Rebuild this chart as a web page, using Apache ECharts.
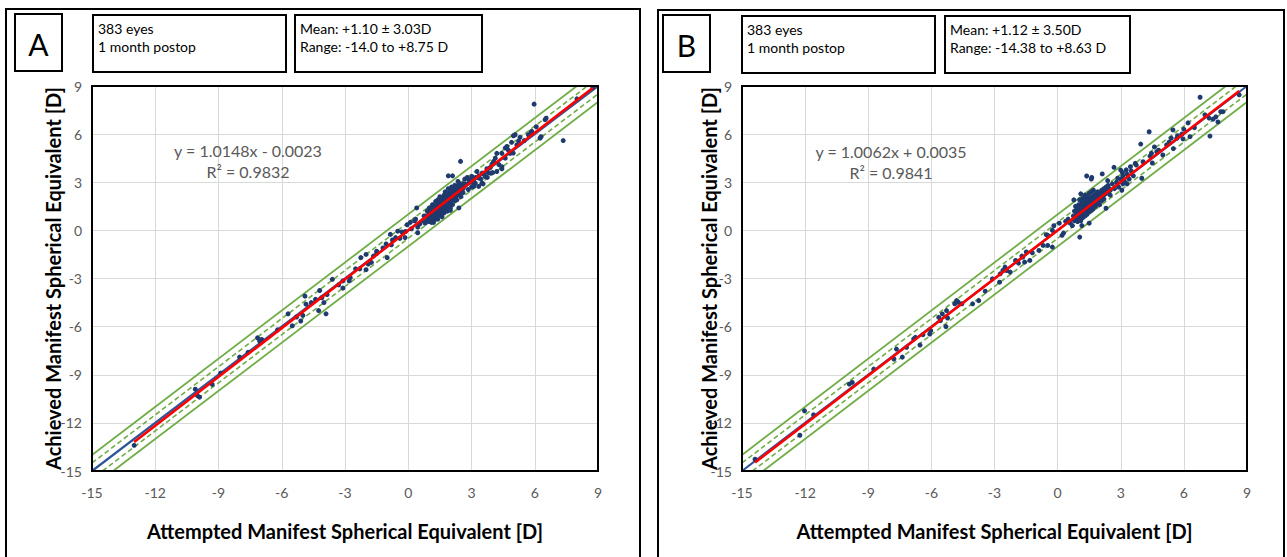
<!DOCTYPE html>
<html><head><meta charset="utf-8">
<script src="https://cdn.jsdelivr.net/npm/echarts@6/dist/echarts.min.js"></script>
<style>html,body{margin:0;padding:0;background:#fff}#c{width:1287px;height:557px}</style>
</head><body><div id="c"></div>
<script>
// ---------- data ----------
const tickValues = [-15, -12, -9, -6, -3, 0, 3, 6, 9];
const panelLetters = ['A', 'B'];
const infoLines = ['383 eyes\n1 month postop', '383 eyes\n1 month postop'];
const statLines = ['Mean: +1.10 ± 3.03D\nRange: -14.0 to +8.75 D', 'Mean: +1.12 ± 3.50D\nRange: -14.38 to +8.63 D'];
const equations = ['y = 1.0148x - 0.0023', 'y = 1.0062x + 0.0035'];
const r2Labels = ['R² = 0.9832', 'R² = 0.9841'];
const slopes = [1.0148, 1.0062];
const intercepts = [-0.0023, 0.0035];
const xTitle = 'Attempted Manifest Spherical Equivalent [D]';
const yTitle = 'Achieved Manifest Spherical Equivalent [D]';
const solidOffsets = [1, -1];
const dashedOffsets = [0.5, -0.5];

// Panel A: [attempted, achieved]
const pointsA = [
[-13.0,-13.4],[-10.1,-9.9],[-10.0,-10.3],[-9.9,-10.4],[-9.3,-9.6],[-8.9,-8.9],[-8.0,-7.9],[-7.6,-7.6],
[-7.15,-6.7],[-7.05,-6.9],[-6.95,-6.8],[-6.2,-6.2],[-5.7,-5.2],[-5.5,-5.95],[-5.3,-5.4],[-5.1,-5.65],
[-5.0,-5.3],[-4.9,-4.1],[-4.85,-4.6],[-4.6,-4.5],[-4.4,-4.3],[-4.25,-5.0],[-4.2,-3.75],[-4.1,-4.2],
[-4.0,-4.5],[-3.9,-5.2],[-3.85,-4.0],[-3.6,-3.05],[-3.3,-3.4],[-3.1,-3.6],[-3.1,-3.15],[-2.8,-3.15],
[-2.75,-2.95],[-2.5,-2.4],[-2.3,-2.4],[-2.25,-1.7],[-2.0,-1.5],[-2.0,-2.45],[-1.9,-2.1],[-1.75,-2.0],
[-1.65,-1.6],[-1.5,-1.3],[-1.5,-1.45],[-1.2,-1.1],[-1.05,-0.85],[-1.0,-1.7],[-0.85,-0.25],[-0.8,-0.9],
[-0.75,-0.6],[-0.6,-0.45],[-0.5,-0.05],[-0.4,-0.5],[-0.3,-0.1],[-0.15,-0.45],[-0.13,-0.07],[-0.05,0.35],
[0.1,0.5],[0.15,0.1],[0.3,0.6],[0.35,0.7],[0.4,1.4],[0.45,0.2],[0.45,-0.15],[0.55,0.4],[0.7,0.6],
[0.75,0.9],[0.8,0.45],
[0.85,0.9],[0.9,0.6],[0.9,1.2],[0.95,0.8],[1.0,1.0],[1.0,0.55],[1.0,1.4],[1.05,0.7],[1.05,1.1],[1.1,0.9],
[1.1,1.3],[1.1,0.5],[1.15,1.0],[1.15,1.6],[1.2,0.8],[1.2,1.2],[1.2,1.45],[1.2,0.5],[1.25,0.95],[1.25,1.35],
[1.25,0.65],[1.3,1.1],[1.3,1.5],[1.3,0.85],[1.3,1.8],[1.35,1.25],[1.35,1.0],[1.35,1.65],[1.4,1.4],[1.4,0.9],
[1.4,1.15],[1.4,1.9],[1.4,0.7],[1.45,1.3],[1.45,1.55],[1.45,1.05],[1.5,1.5],[1.5,1.2],[1.5,1.75],[1.5,0.95],
[1.5,2.1],[1.55,1.4],[1.55,1.6],[1.55,1.15],[1.6,1.6],[1.6,1.3],[1.6,1.85],[1.6,1.0],[1.6,0.85],[1.65,1.5],
[1.65,1.7],[1.65,2.0],[1.65,1.25],[1.7,1.8],[1.7,1.4],[1.7,1.6],[1.7,2.2],[1.7,1.1],[1.75,1.9],[1.75,1.5],
[1.75,1.7],[1.75,2.4],[1.8,1.8],[1.8,1.6],[1.8,2.05],[1.8,1.3],[1.8,2.3],[1.85,1.9],[1.85,1.7],[1.85,2.15],
[1.85,1.45],[1.85,1.2],[1.9,2.0],[1.9,1.8],[1.9,2.3],[1.9,1.55],[1.9,2.6],[1.95,2.1],[1.95,1.9],[1.95,1.65],
[2.0,2.0],[2.0,2.25],[2.0,1.75],[2.0,2.5],[2.0,1.4],[2.0,1.25],[2.05,2.1],[2.05,1.9],[2.05,2.7],[2.1,2.2],
[2.1,1.95],[2.1,2.45],[2.1,1.6],[2.15,2.3],[2.15,2.05],[2.15,2.6],[2.2,2.2],[2.2,2.45],[2.2,1.85],[2.2,2.8],
[2.25,2.35],[2.25,2.1],[2.3,2.5],[2.3,2.25],[2.3,1.9],[2.3,2.75],[2.35,2.4],[2.35,2.6],[2.4,2.5],[2.4,2.2],
[2.4,2.95],[2.4,1.4],[2.45,2.65],[2.45,2.35],[2.5,2.55],[2.5,2.8],[2.5,2.1],[2.55,2.7],[2.6,2.6],[2.6,2.9],
[2.6,2.35],[2.65,2.75],[1.9,3.4],[2.1,3.4],[2.48,4.3],[2.85,2.55],
[2.68,3.2],[2.36,3.05],[2.39,2.63],[2.7,2.9],[2.8,3.3],[2.87,3.15],[2.9,3.0],[3.0,3.2],[3.02,3.36],[3.0,2.7],
[3.1,3.05],[3.1,2.74],[3.1,2.9],[3.18,2.94],[3.2,3.3],[3.26,3.67],[3.34,3.26],[3.34,2.74],[3.35,3.4],[3.45,3.2],
[3.5,3.57],[3.5,2.94],[3.55,2.9],[3.6,3.5],[3.65,3.36],[3.73,3.84],[3.75,3.3],[3.8,3.6],[3.89,3.57],[3.89,3.92],
[3.97,4.13],[4.0,3.6],[4.05,4.3],[4.13,4.5],[4.2,4.8],[4.2,3.67],[4.3,4.1],[4.44,4.8],[4.44,3.84],[4.44,3.97],
[4.6,4.5],[4.6,5.13],[4.68,5.23],[4.75,5.0],[4.83,4.8],[4.9,5.49],[4.98,4.82],[4.99,5.9],[5.07,5.96],[5.15,5.33],
[5.23,5.58],[5.3,5.8],[5.5,5.6],[5.7,5.96],[5.83,6.13],[5.86,6.17],[5.97,7.87],[6.07,6.46],[6.25,5.75],[6.3,5.84],
[6.49,6.9],[6.54,6.99],[7.35,5.6],[8.0,8.2],[8.75,8.9]
];

// Panel B: [attempted, achieved]
const pointsB = [
[-14.38,-14.27],[-12.03,-11.25],[-12.25,-12.77],[-11.6,-11.5],[-9.9,-9.58],[-9.76,-9.48],[-8.74,-8.65],[-7.78,-8.02],
[-7.66,-7.4],[-7.38,-7.9],[-7.18,-7.29],[-6.84,-6.77],[-6.76,-6.67],[-6.54,-7.15],[-6.4,-6.5],[-6.08,-6.46],
[-6.03,-6.25],[-5.65,-5.42],[-5.57,-5.63],[-5.48,-5.21],[-5.31,-6.0],[-5.28,-5.0],[-5.23,-5.46],[-4.89,-4.58],
[-4.8,-4.38],[-4.72,-4.48],[-4.55,-4.58],[-4.04,-4.58],[-3.75,-4.38],[-3.44,-3.79],[-3.1,-3.02],[-2.76,-3.23],
[-2.73,-2.71],[-2.6,-2.5],[-2.5,-2.29],[-2.42,-2.5],[-2.25,-2.6],[-2.0,-1.875],[-1.86,-2.04],[-1.7,-1.6],
[-1.66,-1.67],[-1.57,-1.98],[-1.49,-1.35],[-1.32,-1.875],[-1.2,-1.4],[-0.89,-1.25],[-0.69,-0.94],[-0.54,-0.27],
[-0.47,-0.31],[-0.47,-0.94],[-0.25,-1.04],[-0.25,0.0],[-0.18,0.29],[0.08,0.45],[0.21,-0.31],[0.28,-0.17],
[0.38,0.56],[0.5,0.7],[0.6,0.45],[0.7,0.3],[1.05,-0.42],
[0.75,0.9],[0.8,1.2],[0.8,0.6],[0.85,1.5],[0.9,0.8],[0.9,1.1],[0.95,1.35],[0.95,0.55],[1.0,1.0],[1.0,1.6],
[1.0,0.75],[1.05,1.2],[1.05,0.9],[1.05,1.9],[1.1,1.1],[1.1,1.45],[1.1,0.6],[1.15,1.3],[1.15,0.95],[1.15,1.7],
[1.2,1.2],[1.2,1.5],[1.2,0.8],[1.2,2.0],[1.25,1.4],[1.25,1.05],[1.25,1.75],[1.3,1.3],[1.3,1.6],[1.3,0.9],
[1.3,2.2],[1.35,1.5],[1.35,1.15],[1.35,1.85],[1.4,1.4],[1.4,1.7],[1.4,1.0],[1.4,2.05],[1.45,1.55],[1.45,1.25],
[1.45,1.9],[1.5,1.5],[1.5,1.8],[1.5,1.15],[1.5,2.3],[1.55,1.65],[1.55,1.35],[1.55,2.0],[1.6,1.6],[1.6,1.9],
[1.6,1.25],[1.6,2.4],[1.65,1.75],[1.65,1.45],[1.65,2.1],[1.7,1.7],[1.7,2.0],[1.7,1.35],[1.7,2.5],[1.75,1.85],
[1.75,1.55],[1.75,2.2],[1.8,1.8],[1.8,2.1],[1.8,1.5],[1.85,1.95],[1.85,2.3],[1.85,1.65],[1.9,2.0],[1.9,2.4],
[1.9,1.7],[1.95,2.1],[1.95,1.85],[2.0,2.0],[2.0,2.35],[2.0,1.6],[2.05,2.2],[2.1,2.1],[2.1,2.5],[2.1,1.85],
[2.15,2.3],[2.2,2.2],[2.2,2.6],[2.2,1.95],[2.25,2.4],[2.3,2.3],[2.3,2.7],[2.35,2.5],[2.4,2.4],[2.4,2.8],
[2.45,2.6],[2.5,2.5],[2.5,2.2],[1.38,3.39],[1.6,3.2],[1.62,3.3],[1.1,2.28],[0.77,1.9],[2.12,3.52],[2.38,3.1],
[2.3,1.38],[1.5,0.45],[1.15,0.3],
[2.6,2.9],[2.7,2.6],[2.68,3.93],[2.8,3.0],[2.85,3.25],[2.9,2.7],[3.0,3.2],[3.0,3.76],[3.05,2.5],[3.08,3.6],
[3.1,3.4],[3.1,2.9],[3.2,3.0],[3.26,3.77],[3.3,3.5],[3.3,2.9],[3.4,3.2],[3.46,3.97],[3.5,3.7],[3.6,3.4],
[3.69,4.18],[3.74,4.07],[3.95,5.38],[4.0,3.25],[4.06,4.28],[4.35,6.15],[4.39,4.63],[4.46,4.8],[4.5,4.2],[4.6,5.2],
[4.71,4.9],[4.8,5.0],[5.0,4.7],[5.18,5.32],[5.3,5.5],[5.4,5.75],[5.48,6.26],[5.5,5.1],[5.66,5.74],[5.7,5.9],
[5.9,6.0],[5.96,5.7],[6.0,6.3],[6.2,6.7],[6.29,5.84],[6.5,6.4],[6.77,8.3],[7.0,7.2],[7.2,7.0],[7.24,5.88],
[7.39,6.94],[7.52,7.08],[7.62,6.76],[7.75,7.4],[7.86,7.4],[8.63,8.45]
];
const panelPoints = [pointsA, pointsB];

// ---------- layout ----------
const grids = [
  {left: 92, top: 86, width: 506, height: 385},
  {left: 742, top: 86, width: 505, height: 385}
];
const FONT = 'Lato, "Open Sans", sans-serif';
const AXMIN = -15, AXMAX = 9;

function refSegment(d) {
  return d >= 0 ? [[AXMIN, AXMIN + d], [AXMAX - d, AXMAX]] : [[AXMIN - d, AXMIN], [AXMAX, AXMAX + d]];
}

const series = [];
const xAxes = [], yAxes = [];
const graphics = [];
const panelFrames = [
  {x: 6, y: 9, w: 634, h: 560},
  {x: 658, y: 10, w: 626, h: 560}
];
const letterBoxes = [{x: 15, y: 14, w: 47, h: 57}, {x: 663, y: 15, w: 47, h: 57}];
const infoBoxes = [{x: 93, y: 15, w: 193, h: 57}, {x: 742, y: 16, w: 193, h: 57}];
const statBoxes = [{x: 295, y: 15, w: 187, h: 57}, {x: 945, y: 16, w: 185, h: 57}];
const eqPos = [{x: 248, y: 150}, {x: 891, y: 151}];
const yNameGaps = [29, 23];

for (let i = 0; i < 2; i++) {
  xAxes.push({
    type: 'value', gridIndex: i, min: AXMIN, max: AXMAX, interval: 3,
    axisLine: {show: false}, axisTick: {show: false},
    axisLabel: {color: '#595959', fontSize: 14, fontFamily: FONT, margin: 14},
    splitLine: {lineStyle: {color: '#D9D9D9', width: 1}},
    name: xTitle, nameLocation: 'middle', nameGap: 50, nameMoveOverlap: false,
    nameTextStyle: {color: '#000', fontSize: 20, fontWeight: 'bold', fontFamily: FONT}
  });
  yAxes.push({
    type: 'value', gridIndex: i, min: AXMIN, max: AXMAX, interval: 3,
    axisLine: {show: false}, axisTick: {show: false},
    axisLabel: {color: '#595959', fontSize: 14, fontFamily: FONT, margin: 10},
    splitLine: {lineStyle: {color: '#D9D9D9', width: 1}},
    name: yTitle, nameLocation: 'middle', nameGap: yNameGaps[i], nameMoveOverlap: false,
    nameTextStyle: {color: '#000', fontSize: 20, fontWeight: 'bold', fontFamily: FONT}
  });
  solidOffsets.forEach(d => series.push({
    type: 'line', xAxisIndex: i, yAxisIndex: i, data: refSegment(d), showSymbol: false, silent: true, z: 2,
    lineStyle: {color: '#70AD47', width: 1.8}
  }));
  dashedOffsets.forEach(d => series.push({
    type: 'line', xAxisIndex: i, yAxisIndex: i, data: refSegment(d), showSymbol: false, silent: true, z: 2,
    lineStyle: {color: '#70AD47', width: 1.6, type: [5, 3]}
  }));
  series.push({
    type: 'line', xAxisIndex: i, yAxisIndex: i, data: refSegment(0), showSymbol: false, silent: true, z: 3,
    lineStyle: {color: '#2F5597', width: 2.2}
  });
  series.push({
    type: 'scatter', xAxisIndex: i, yAxisIndex: i, data: panelPoints[i], symbolSize: 5, z: 4,
    itemStyle: {color: '#1F3A6E', opacity: 1}
  });
  const xs = panelPoints[i].map(p => p[0]);
  const x0 = Math.min(...xs), x1 = Math.max(...xs);
  series.push({
    type: 'line', xAxisIndex: i, yAxisIndex: i, showSymbol: false, silent: true, z: 5,
    data: [[x0, slopes[i] * x0 + intercepts[i]], [x1, slopes[i] * x1 + intercepts[i]]],
    lineStyle: {color: '#FF0000', width: 2.6}
  });

  const g = grids[i], pf = panelFrames[i], lb = letterBoxes[i], ib = infoBoxes[i], sb = statBoxes[i], ep = eqPos[i];
  graphics.push(
    {type: 'rect', z: 100, shape: {x: pf.x, y: pf.y, width: pf.w, height: pf.h}, style: {fill: 'none', stroke: '#000', lineWidth: 2}},
    {type: 'rect', z: 100, shape: {x: g.left, y: g.top, width: g.width, height: g.height}, style: {fill: 'none', stroke: '#000', lineWidth: 2}},
    {type: 'rect', z: 100, shape: {x: lb.x, y: lb.y, width: lb.w, height: lb.h}, style: {fill: '#fff', stroke: '#000', lineWidth: 2}},
    {type: 'text', z: 101, style: {text: panelLetters[i], x: lb.x + lb.w / 2, y: lb.y + lb.h / 2 + 1, textAlign: 'center', textVerticalAlign: 'middle', font: '30px ' + FONT, fill: '#000'}},
    {type: 'rect', z: 100, shape: {x: ib.x, y: ib.y, width: ib.w, height: ib.h}, style: {fill: '#fff', stroke: '#000', lineWidth: 2}},
    {type: 'text', z: 101, style: {text: infoLines[i], x: ib.x + 5, y: ib.y + 4, textAlign: 'left', textVerticalAlign: 'top', font: '14px ' + FONT, lineHeight: 18, fill: '#000'}},
    {type: 'rect', z: 100, shape: {x: sb.x, y: sb.y, width: sb.w, height: sb.h}, style: {fill: '#fff', stroke: '#000', lineWidth: 2}},
    {type: 'text', z: 101, style: {text: statLines[i], x: sb.x + 5, y: sb.y + 4, textAlign: 'left', textVerticalAlign: 'top', font: '14px ' + FONT, lineHeight: 18, fill: '#000'}},
    {type: 'text', z: 101, style: {text: equations[i], x: ep.x, y: ep.y, textAlign: 'center', textVerticalAlign: 'middle', font: '16px ' + FONT, fill: '#595959'}},
    {type: 'text', z: 101, style: {text: r2Labels[i], x: ep.x, y: ep.y + 21, textAlign: 'center', textVerticalAlign: 'middle', font: '16px ' + FONT, fill: '#595959'}}
  );
}

const chart = echarts.init(document.getElementById('c'), null, {renderer: 'svg'});
chart.setOption({
  animation: false,
  backgroundColor: '#fff',
  grid: grids,
  xAxis: xAxes,
  yAxis: yAxes,
  series: series,
  graphic: graphics
});
</script></body></html>
